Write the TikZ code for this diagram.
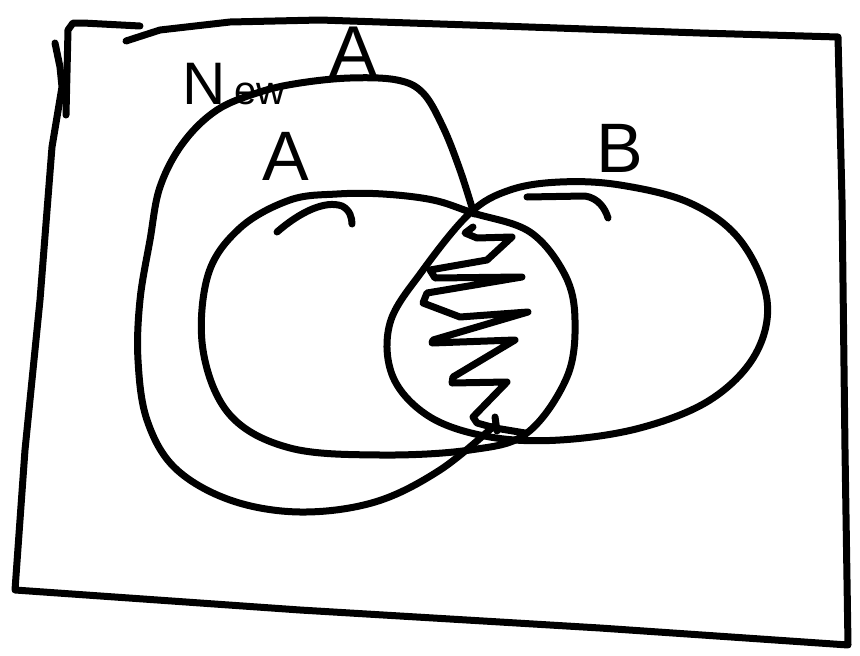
\documentclass[tikz,border=0pt]{standalone}
\usepackage{fontspec}
\setmainfont{Liberation Sans}
\begin{document}
\begin{tikzpicture}[x=1pt,y=-1pt,
  pen/.style={line width=7pt,line cap=round,line join=round,black},
  hand/.style={inner sep=0pt,anchor=base west}]
\useasboundingbox (0,0) rectangle (860,656);
% outer frame
\draw[pen] (126,41) -- (160,30) -- (230,22) -- (320,20) -- (500,26) -- (700,33) -- (838,37)
  -- (842,200) -- (845,450) -- (848,645) -- (600,628) -- (300,610) -- (15,590)
  -- (25,450) -- (40,300) -- (52,147) -- (57,117) -- (62,87) -- (60,67) -- (55,43);
\draw[pen] (66,115) -- (68,30) -- (73,23) -- (83,23) -- (140,26);
% New A region
\draw[pen] plot[smooth,tension=0.6] coordinates {(474,214) (460,170) (443,127) (423,93) (397,80) (350,78) (300,83) (260,92) (217,110) (183,143) (160,187) (150,240) (140,300) (138,360) (147,420) (175,468) (230,500) (300,512) (375,502) (440,470) (495,425)};
% A ellipse
\draw[pen] plot[smooth cycle,tension=0.6] coordinates {(473,213) (530,232) (565,275) (575,320) (567,377) (527,433) (470,450) (380,455) (290,448) (230,415) (203,350) (208,275) (240,228) (290,200) (337,194) (383,194) (433,200)};
% B ellipse
\draw[pen] plot[smooth cycle,tension=0.6] coordinates {(470,213) (510,190) (560,182) (620,185) (690,203) (740,240) (767,300) (755,355) (710,400) (640,428) (560,440) (490,437) (430,417) (393,377) (390,323) (423,270)};
% small arcs
\draw[pen] (277,232) .. controls (300,212) and (325,200) .. (342,206) .. controls (350,210) and (352,218) .. (352,224);
\draw[pen] (527,197) -- (585,196) .. controls (598,198) and (605,208) .. (608,218);
% hatching
\draw[pen] (473,227) -- (465,233) -- (477,238) -- (512,237) -- (487,260) -- (430,270) -- (435,278)
  -- (522,277) -- (427,293) -- (423,303) -- (460,317) -- (528,312) -- (433,340) -- (432,343)
  -- (515,340) -- (453,377) -- (452,383) -- (507,382) -- (473,417) -- (477,423) -- (495,428) -- (525,433);
\draw[pen] (495,417) -- (497,431);
% labels
\node[hand] (newA) at (182,104) {\fontsize{60}{60}\selectfont N\hspace{0.15em}\fontsize{40}{40}\selectfont ew\hspace{1.1em}\raisebox{28pt}{\fontsize{72}{72}\selectfont A}};
\node[hand] (labA) at (262,180) {\fontsize{70}{70}\selectfont A};
\node[hand] (labB) at (596,172) {\fontsize{70}{70}\selectfont B};
\end{tikzpicture}
\end{document}
